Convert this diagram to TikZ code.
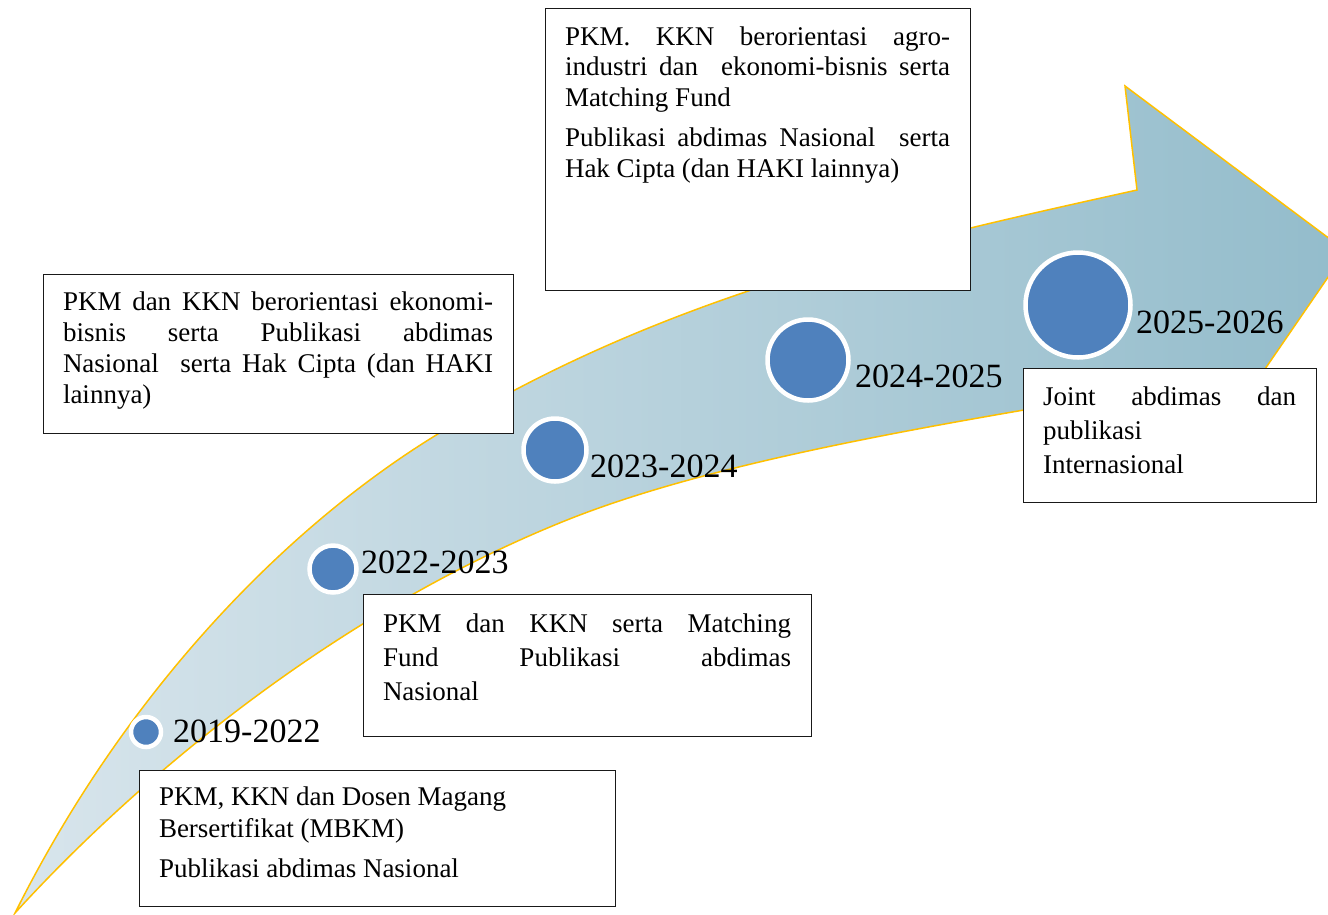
\documentclass[tikz,border=0pt]{standalone}
\usepackage{fontspec}
\setmainfont{Liberation Serif}
\usepackage{xcolor}
\usetikzlibrary{positioning}
\definecolor{bandlight}{HTML}{D8E5EC}
\definecolor{banddark}{HTML}{93BCCB}
\definecolor{bandedge}{HTML}{FFC000}
\definecolor{dotblue}{HTML}{4F81BD}
\frenchspacing
\tolerance=9999
\hyphenpenalty=10000

\begin{document}
\begin{tikzpicture}[x=1pt, y=-1pt,
  band/.style={draw=bandedge, line width=1.5pt, left color=bandlight,
    right color=banddark},
  dot/.style={circle, fill=dotblue, draw=white, line width=4.5pt,
    inner sep=0pt, minimum size=#1},
  year/.style={font=\fontsize{34}{40}\selectfont, anchor=base west,
    inner sep=0pt},
  blok/.style={draw=black!90, line width=1pt, fill=white, anchor=north west,
    align=justify, inner xsep=20pt, inner ysep=0pt, outer sep=0pt,
    text width=#1},
  lines/.style={font=\fontsize{27}{#1}\selectfont}]
\useasboundingbox (0,0) rectangle (1328,914);
\clip (0,0) rectangle (1328,914);
% the curved arrow
\draw[band] (15,913) .. controls (125,693) and (283,530) .. (433,437)
  .. controls (663,294) and (907,241) .. (1137,190)
  -- (1125,86) -- (1346,251) -- (1265,369)
  .. controls (1035,410) and (747,448) .. (567,520)
  .. controls (337,612) and (140,776) .. (15,913) -- cycle;
% milestones
\node[dot=30pt] (d19) at (146,732) {};
\node[dot=47pt] (d22) at (333,569) {};
\node[dot=63pt] (d23) at (555,450) {};
\node[dot=81pt] (d24) at (808,360) {};
\node[dot=105pt] (d25) at (1078,305) {};
\node[year] (y19) at (173,742) {2019-2022};
\node[year] (y22) at (361,573) {2022-2023};
\node[year] (y23) at (590,477) {2023-2024};
\node[year] (y24) at (855,387) {2024-2025};
\node[year] (y25) at (1136,333) {2025-2026};
% the text boxes
\node[blok=430pt, lines=31, text height=36pt, text depth=123pt] (t23)
  at (43,274) {PKM dan KKN berorientasi ekonomi-\linebreak bisnis serta
  Publikasi abdimas\linebreak Nasional\ \ serta Hak Cipta (dan
  HAKI\linebreak lainnya)};
\node[blok=385pt, lines=30.5, text height=37pt, text depth=245pt] (t24)
  at (545,8) {PKM. KKN berorientasi agro-\linebreak industri dan\ \
  ekonomi-bisnis serta\linebreak Matching Fund\\[10pt]
  Publikasi abdimas Nasional\ \ serta\linebreak Hak Cipta (dan HAKI
  lainnya)};
\node[blok=408pt, lines=34, text height=38pt, text depth=104pt] (t22)
  at (363,594) {PKM dan KKN serta Matching\linebreak Fund Publikasi
  abdimas\linebreak Nasional};
\node[blok=436pt, lines=32, text height=35pt, text depth=101pt] (t19)
  at (139,770) {PKM, KKN dan Dosen Magang\\ Bersertifikat (MBKM)\\[8pt]
  Publikasi abdimas Nasional};
\node[blok=253pt, lines=34, text height=37pt, text depth=97pt] (t25)
  at (1023,368) {Joint abdimas dan\linebreak publikasi\\ Internasional};
\end{tikzpicture}
\end{document}
